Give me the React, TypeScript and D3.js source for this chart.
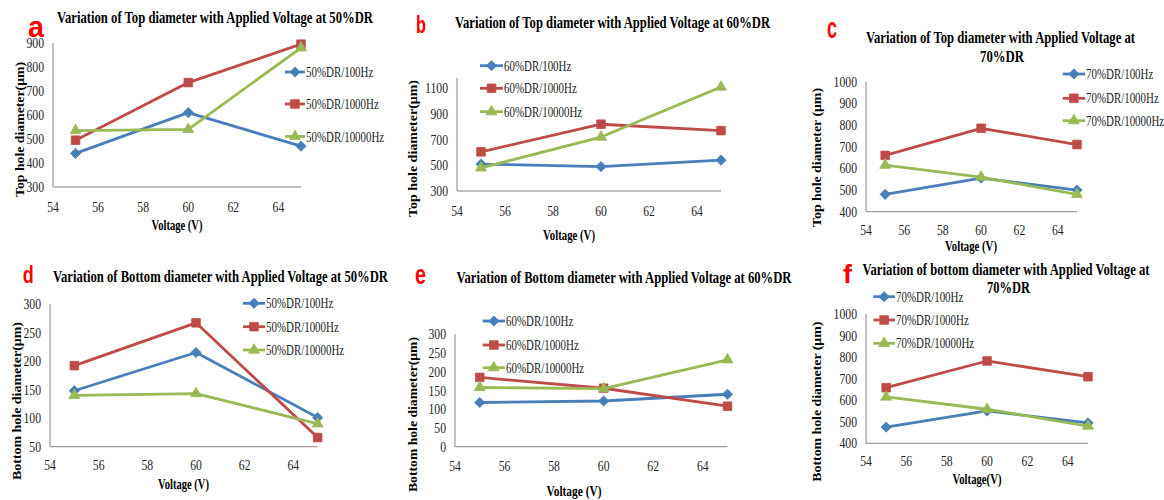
import React from "react";
import * as d3 from "d3";

// applied voltage (V) for every series
const voltage = [55, 60, 65];
const xTicks = [54, 56, 58, 60, 62, 64];

// a: top diameter, 50%DR
const topDR50_100Hz = [440, 610, 470];
const topDR50_1000Hz = [495, 735, 895];
const topDR50_10000Hz = [535, 540, 880];
// b: top diameter, 60%DR
const topDR60_100Hz = [510, 490, 540];
const topDR60_1000Hz = [605, 820, 770];
const topDR60_10000Hz = [480, 720, 1110];
// c: top diameter, 70%DR
const topDR70_100Hz = [480, 555, 500];
const topDR70_1000Hz = [660, 785, 710];
const topDR70_10000Hz = [615, 560, 480];
// d: bottom diameter, 50%DR
const botDR50_100Hz = [148, 215, 101];
const botDR50_1000Hz = [192, 267, 66];
const botDR50_10000Hz = [140, 143, 90];
// e: bottom diameter, 60%DR
const botDR60_100Hz = [118, 122, 140];
const botDR60_1000Hz = [185, 156, 108];
const botDR60_10000Hz = [158, 155, 232];
// f: bottom diameter, 70%DR
const botDR70_100Hz = [475, 550, 495];
const botDR70_1000Hz = [658, 782, 709];
const botDR70_10000Hz = [615, 558, 480];

const yTicksA = [300, 400, 500, 600, 700, 800, 900];
const yTicksB = [300, 500, 700, 900, 1100];
const yTicksC = [400, 500, 600, 700, 800, 900, 1000];
const yTicksD = [50, 100, 150, 200, 250, 300];
const yTicksE = [0, 50, 100, 150, 200, 250, 300];

const freqs = ["100Hz", "1000Hz", "10000Hz"];
const colors = ["#4A7EBB", "#BE4B48", "#98B954"];
const FONT = "'Liberation Serif', 'Times New Roman', serif";

const panels = [
  {
    letter: "a", lx: 28, ly: 37, ls: 30, lw: 16,
    title: ["Variation of Top diameter with Applied Voltage at 50%DR"], tx: [215], ty: [23], tw: [316],
    yLabel: "Top hole diameter(μm)", ylx: 24, yly: 129.5, ylw: 135,
    xLabel: "Voltage (V)", xlx: 177, xly: 230, xlw: 51,
    px: [53, 301], py: [187, 43], yDomain: [300, 900], yTicks: yTicksA, xTickDy: 25,
    legX: [285, 305], legY: [72, 104, 136.5],
    dr: "50%DR", series: [topDR50_100Hz, topDR50_1000Hz, topDR50_10000Hz],
  },
  {
    letter: "b", lx: 416, ly: 33, ls: 23, lw: 10,
    title: ["Variation of Top diameter with Applied Voltage at 60%DR"], tx: [612.5], ty: [28], tw: [315],
    yLabel: "Top hole diameter(μm)", ylx: 417, yly: 148.5, ylw: 137,
    xLabel: "Voltage (V)", xlx: 569, xly: 240, xlw: 52,
    px: [457, 721], py: [191, 78], yDomain: [300, 1180], yTicks: yTicksB, xTickDy: 25,
    legX: [480, 503], legY: [65.7, 88.3, 111.7],
    dr: "60%DR", series: [topDR60_100Hz, topDR60_1000Hz, topDR60_10000Hz],
  },
  {
    letter: "c", lx: 827, ly: 38, ls: 30, lw: 10,
    title: ["Variation of Top diameter with Applied Voltage at", "70%DR"], tx: [1000.5, 1002], ty: [43, 61.5], tw: [269, 44],
    yLabel: "Top hole diameter (μm)", ylx: 821, yly: 157.5, ylw: 139,
    xLabel: "Voltage (V)", xlx: 971, xly: 251, xlw: 52,
    px: [866, 1077], py: [211.7, 81.7], yDomain: [400, 1000], yTicks: yTicksC, xTickDy: 23.5,
    legX: [1062.7, 1085], legY: [74, 98.3, 120.7],
    dr: "70%DR", series: [topDR70_100Hz, topDR70_1000Hz, topDR70_10000Hz],
  },
  {
    letter: "d", lx: 22.7, ly: 283, ls: 23, lw: 11,
    title: ["Variation of Bottom diameter with Applied Voltage at 50%DR"], tx: [220.5], ty: [282], tw: [335],
    yLabel: "Bottom  hole diameter(μm)", ylx: 21, yly: 401, ylw: 158,
    xLabel: "Voltage (V)", xlx: 183.5, xly: 489, xlw: 51,
    px: [50, 317.7], py: [446.7, 304], yDomain: [50, 300], yTicks: yTicksD, xTickDy: 23.5,
    legX: [243, 265], legY: [303.3, 326.7, 350],
    dr: "50%DR", series: [botDR50_100Hz, botDR50_1000Hz, botDR50_10000Hz],
  },
  {
    letter: "e", lx: 415, ly: 284, ls: 27, lw: 11,
    title: ["Variation of Bottom diameter with Applied Voltage at 60%DR"], tx: [624], ty: [283], tw: [335],
    yLabel: "Bottom hole diameter(μm)", ylx: 417, yly: 414.5, ylw: 155,
    xLabel: "Voltage  (V)", xlx: 574, xly: 496, xlw: 55,
    px: [455, 727.5], py: [446.7, 334.3], yDomain: [0, 300], yTicks: yTicksE, xTickDy: 24,
    legX: [482.7, 505], legY: [321, 345, 367.7],
    dr: "60%DR", series: [botDR60_100Hz, botDR60_1000Hz, botDR60_10000Hz],
  },
  {
    letter: "f", lx: 843, ly: 283, ls: 25, lw: 9,
    title: ["Variation of bottom diameter with Applied Voltage at", "70%DR"], tx: [1006, 1008.5], ty: [275, 293.3], tw: [287, 43],
    yLabel: "Bottom  hole diameter (μm)", ylx: 821, yly: 401.7, ylw: 160,
    xLabel: "Voltage(V)", xlx: 977, xly: 484, xlw: 49,
    px: [866, 1088], py: [443.3, 314], yDomain: [400, 1000], yTicks: yTicksC, xTickDy: 23,
    legX: [873.3, 895], legY: [296.7, 320, 343.3],
    dr: "70%DR", series: [botDR70_100Hz, botDR70_1000Hz, botDR70_10000Hz],
  },
];

const symbolPaths = [
  d3.symbol().type(d3.symbolSquare).size(52)(),
  d3.symbol().type(d3.symbolSquare).size(74)(),
  d3.symbol().type(d3.symbolTriangle).size(52)(),
];
const symbolRotate = [45, 0, 0];

function Marker({ x, y, i }: { x: number; y: number; i: number }) {
  return (
    <path
      d={symbolPaths[i] as string}
      transform={`translate(${x},${y}) rotate(${symbolRotate[i]})`}
      fill={colors[i]}
      stroke={colors[i]}
      strokeWidth={0.8}
    />
  );
}

function Panel({ p }: { p: any }) {
  const x = d3.scaleLinear().domain([54, 65]).range(p.px);
  const y = d3.scaleLinear().domain(p.yDomain).range(p.py);
  const line = d3
    .line<number>()
    .x((_, k) => x(voltage[k]))
    .y((d) => y(d));
  const sx = 0.78;

  return (
    <g fontFamily={FONT}>
      <text x={p.lx} y={p.ly} fontFamily="'Liberation Sans', Arial, sans-serif" fontWeight="bold"
        fontSize={p.ls} fill="#FF0000" textLength={p.lw} lengthAdjust="spacingAndGlyphs">{p.letter}</text>
      {p.title.map((t: string, k: number) => (
        <text key={k} x={p.tx[k] - p.tw[k] / 2} y={p.ty[k]} fontWeight="bold" fontSize={17}
          textLength={p.tw[k]} lengthAdjust="spacingAndGlyphs" fill="#000">{t}</text>
      ))}
      {/* axes */}
      <line x1={p.px[0]} x2={p.px[1]} y1={p.py[0]} y2={p.py[0]} stroke="#868686" strokeWidth={1} />
      <line x1={p.px[0]} x2={p.px[0]} y1={p.py[0]} y2={p.py[1]} stroke="#868686" strokeWidth={1} />
      {p.yTicks.map((t: number) => (
        <text key={t} transform={`translate(${p.px[0] - 9},${y(t) + 5}) scale(${sx},1)`}
          textAnchor="end" fontSize={15} fill="#222">{t}</text>
      ))}
      {xTicks.map((t) => (
        <text key={t} transform={`translate(${x(t)},${p.py[0] + p.xTickDy}) scale(${sx},1)`}
          textAnchor="middle" fontSize={15} fill="#222">{t}</text>
      ))}
      <text x={p.xlx - p.xlw / 2} y={p.xly} fontWeight="bold" fontSize={15}
        textLength={p.xlw} lengthAdjust="spacingAndGlyphs" fill="#000">{p.xLabel}</text>
      <text transform={`translate(${p.ylx},${p.yly + p.ylw / 2}) rotate(-90)`} fontWeight="bold" fontSize={13.5}
        textLength={p.ylw} lengthAdjust="spacingAndGlyphs" fill="#000">{p.yLabel}</text>
      {/* series */}
      {p.series.map((s: number[], i: number) => (
        <g key={i}>
          <path d={line(s) as string} fill="none" stroke={colors[i]} strokeWidth={2.8} strokeLinejoin="round" />
          {s.map((v, k) => (
            <Marker key={k} x={x(voltage[k])} y={y(v)} i={i} />
          ))}
        </g>
      ))}
      {/* legend */}
      {freqs.map((f, i) => (
        <g key={f}>
          <line x1={p.legX[0]} x2={p.legX[1]} y1={p.legY[i]} y2={p.legY[i]} stroke={colors[i]} strokeWidth={2.8} />
          <Marker x={(p.legX[0] + p.legX[1]) / 2} y={p.legY[i]} i={i} />
          <text transform={`translate(${p.legX[1] + 1},${p.legY[i] + 5}) scale(${sx},1)`} fontSize={14} fill="#222">
            {`${p.dr}/${f}`}
          </text>
        </g>
      ))}
    </g>
  );
}

export default function App() {
  return (
    <svg width={1164} height={500} style={{ position: "absolute", left: 0, top: 0, background: "#fff" }}>
      <rect width={1164} height={500} fill="#fff" />
      {panels.map((p) => (
        <Panel key={p.letter} p={p} />
      ))}
    </svg>
  );
}
